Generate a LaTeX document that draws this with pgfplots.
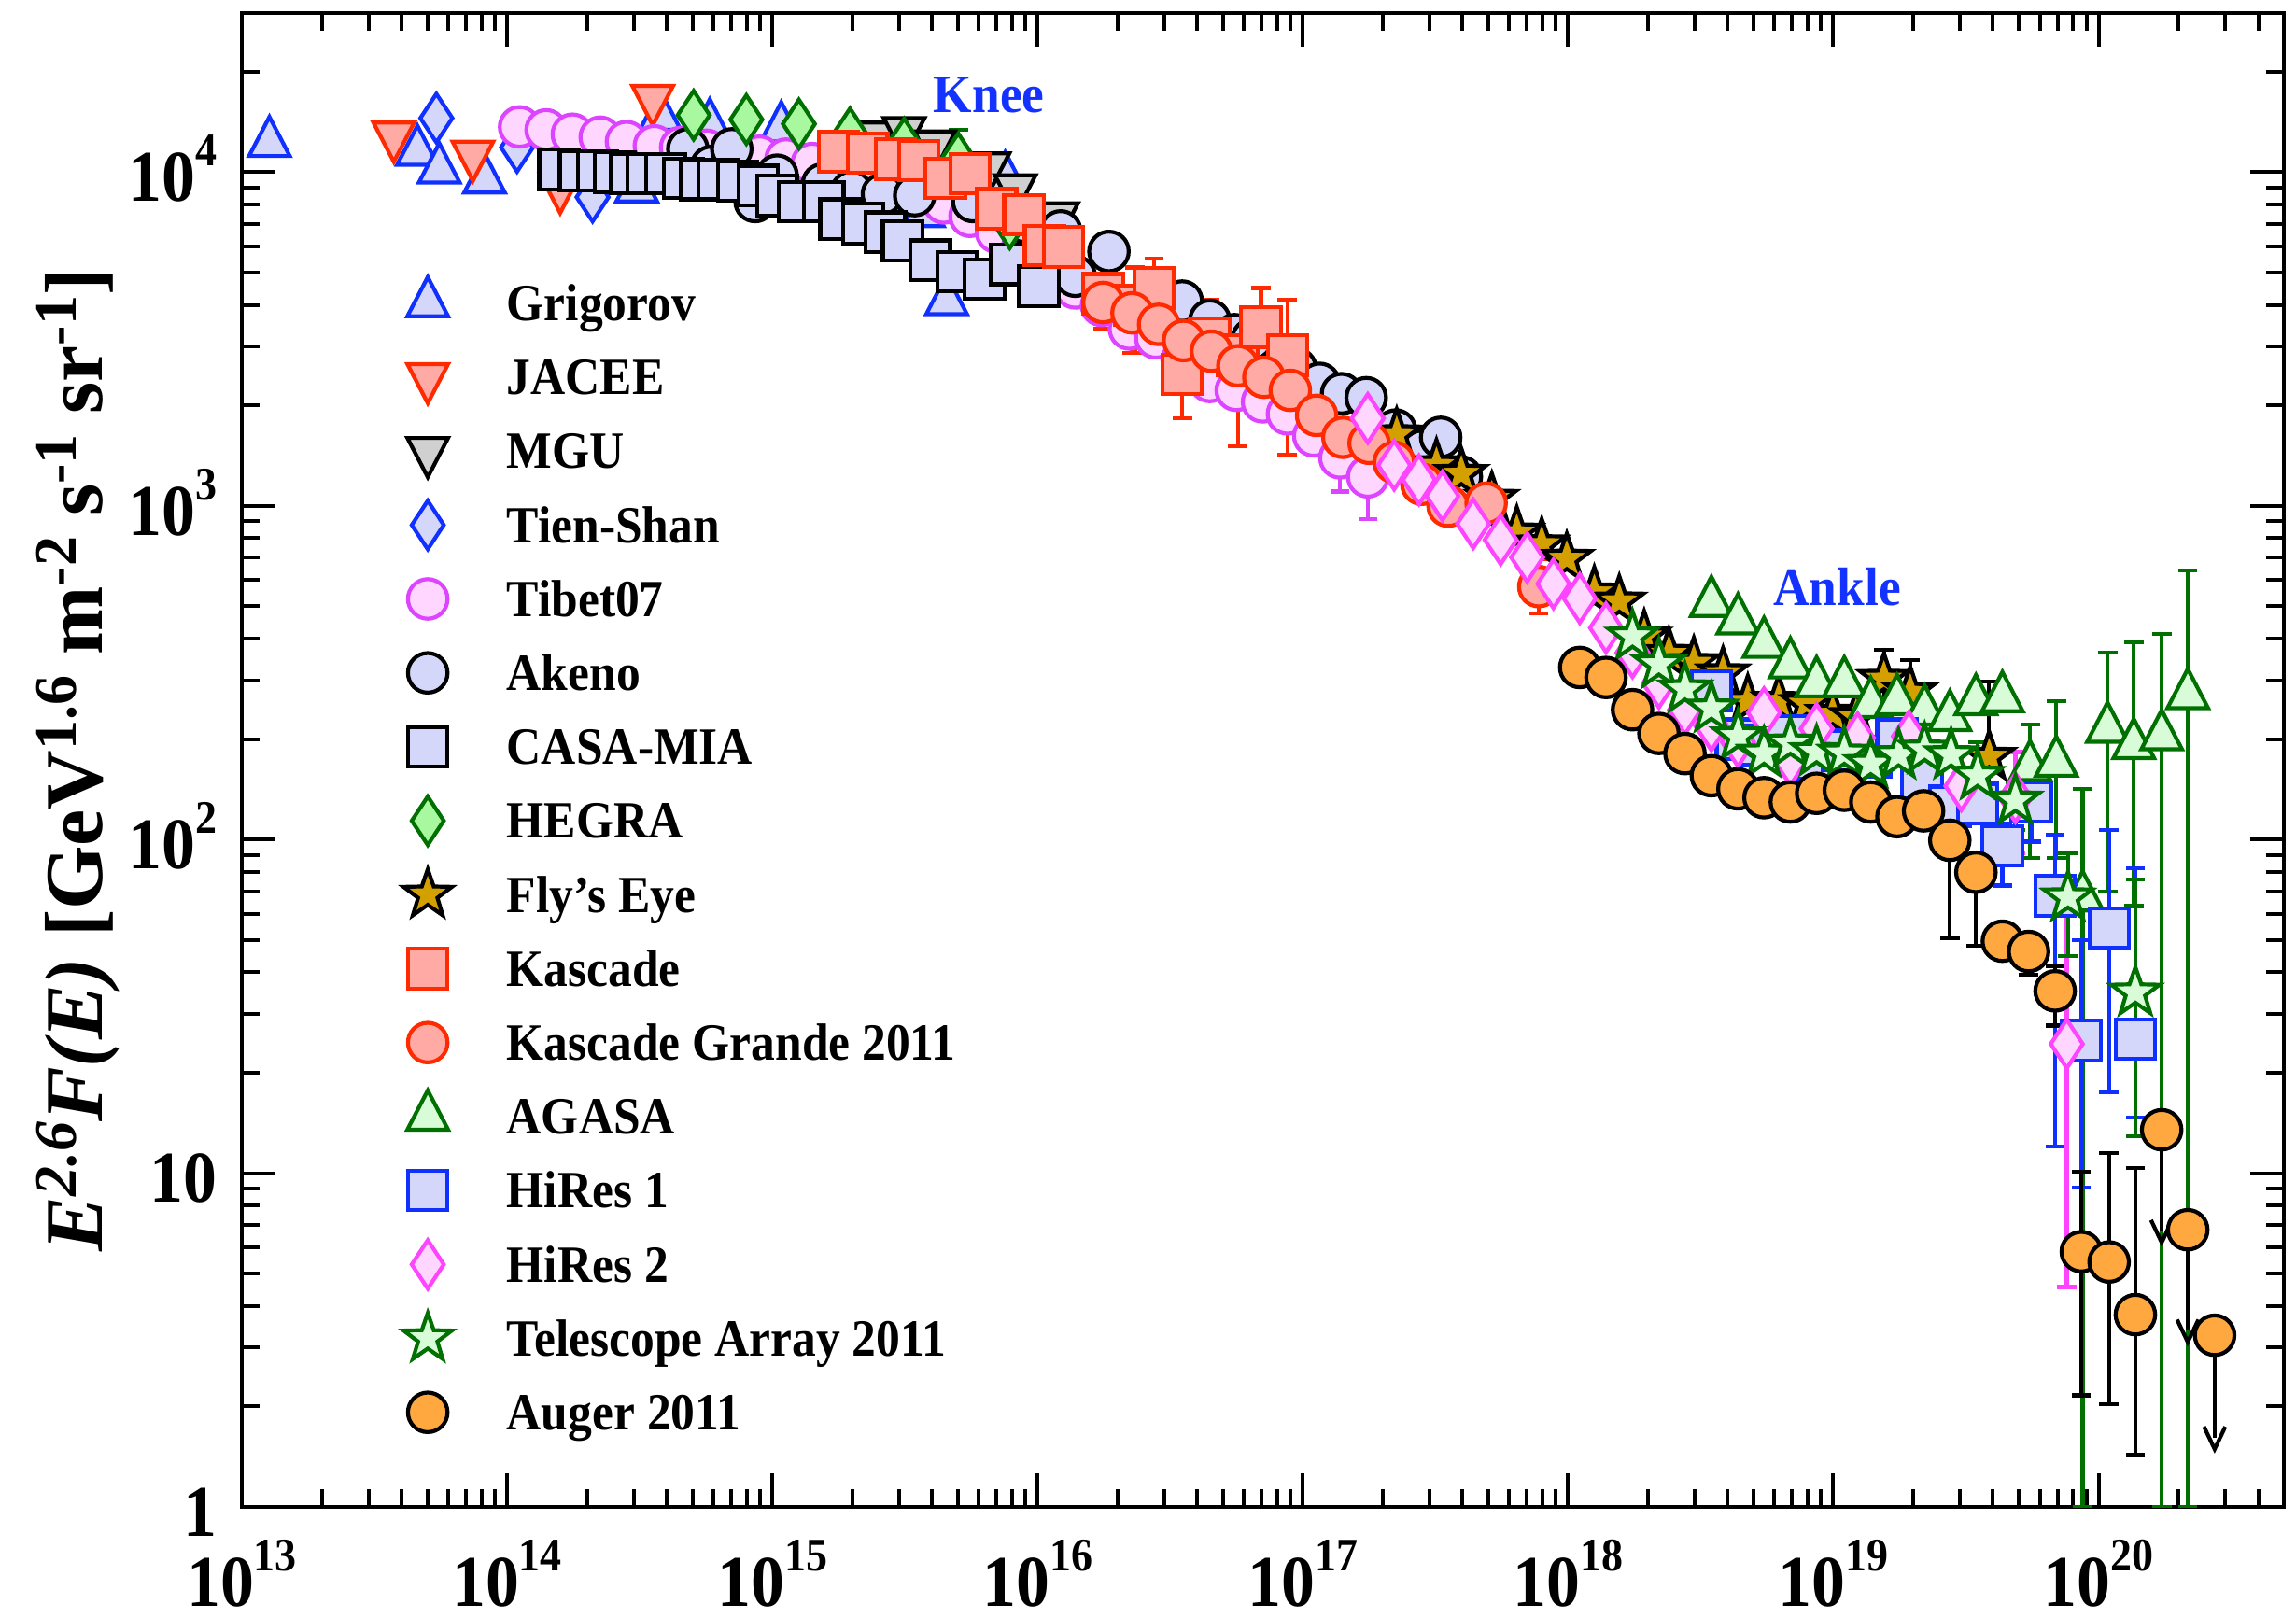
\documentclass[border=0pt]{standalone}
\usepackage{fontspec}
\setmainfont{Liberation Serif}
\newfontfamily\cond{Liberation Serif}[FakeStretch=0.92]
\usepackage{pgfplots}
\pgfplotsset{compat=1.18}
\usetikzlibrary{plotmarks}

\definecolor{cblue}{RGB}{16,48,255}
\definecolor{clav}{RGB}{212,214,250}
\definecolor{cred}{RGB}{255,42,0}
\definecolor{csalmon}{RGB}{255,170,164}
\definecolor{cgray}{RGB}{208,208,208}
\definecolor{cviolet}{RGB}{221,68,255}
\definecolor{cpink}{RGB}{255,214,255}
\definecolor{cgreen}{RGB}{0,112,0}
\definecolor{chegra}{RGB}{168,248,160}
\definecolor{clgreen}{RGB}{216,252,216}
\definecolor{cgold}{RGB}{212,160,0}
\definecolor{cmag}{RGB}{255,68,255}
\definecolor{corange}{RGB}{255,168,64}
\definecolor{cknee}{RGB}{20,50,255}

\pgfdeclareplotmark{fstar}{%
 \pgfpathmoveto{\pgfpointpolar{90}{\pgfplotmarksize}}%
 \pgfpathlineto{\pgfpointpolar{126}{0.4\pgfplotmarksize}}%
 \pgfpathlineto{\pgfpointpolar{162}{\pgfplotmarksize}}%
 \pgfpathlineto{\pgfpointpolar{198}{0.4\pgfplotmarksize}}%
 \pgfpathlineto{\pgfpointpolar{234}{\pgfplotmarksize}}%
 \pgfpathlineto{\pgfpointpolar{270}{0.4\pgfplotmarksize}}%
 \pgfpathlineto{\pgfpointpolar{306}{\pgfplotmarksize}}%
 \pgfpathlineto{\pgfpointpolar{342}{0.4\pgfplotmarksize}}%
 \pgfpathlineto{\pgfpointpolar{18}{\pgfplotmarksize}}%
 \pgfpathlineto{\pgfpointpolar{54}{0.4\pgfplotmarksize}}%
 \pgfpathclose
 \pgfusepathqfillstroke}
% arrow head for upper limits (error marks are turned along the bar)
\pgfdeclareplotmark{varrow}{%
 \pgfpathmoveto{\pgfpoint{-2\pgfplotmarksize}{0.95\pgfplotmarksize}}%
 \pgfpathlineto{\pgfpointorigin}%
 \pgfpathlineto{\pgfpoint{-2\pgfplotmarksize}{-0.95\pgfplotmarksize}}%
 \pgfusepathqstroke}

\newcommand{\tl}[1]{10\raisebox{9.5pt}{\fontsize{12.5}{12.5}\selectfont #1}}
\newcommand{\sups}[1]{\raisebox{7pt}{\fontsize{16}{16}\selectfont #1}}

\pgfplotsset{
 lgd/.style={legend image code/.code={\path[draw=none,fill=none] (-8pt,-9.9pt) rectangle (8pt,9.9pt); \draw[##1] plot coordinates {(0pt,0pt)};}},
 eb/.style={error bars/.cd, y dir=both, y explicit, error mark=|,
   error bar style={line width=1.05pt, #1},
   error mark options={line width=1.05pt, mark size=2.6pt, #1}},
 sgrig/.style={only marks, lgd, mark=triangle*, mark size=7pt, mark options={draw=cblue, fill=clav, line width=1.05pt, xscale=0.9}},
 sjacee/.style={only marks, lgd, mark=triangle*, mark size=7pt, mark options={draw=cred, fill=csalmon, line width=1.05pt, rotate=180, xscale=0.9}},
 smgu/.style={only marks, lgd, mark=triangle*, mark size=7pt, mark options={draw=black, fill=cgray, line width=1.05pt, rotate=180, xscale=0.9}},
 stien/.style={only marks, lgd, mark=diamond*, mark size=6.5pt, mark options={draw=cblue, fill=clav, line width=1.05pt, xscale=0.88}},
 stibet/.style={only marks, lgd, mark=*, mark size=5.3pt, mark options={draw=cviolet, fill=cpink, line width=1.05pt}},
 sakeno/.style={only marks, lgd, mark=*, mark size=5.3pt, mark options={draw=black, fill=clav, line width=1.05pt}},
 scasa/.style={only marks, lgd, mark=square*, mark size=5.3pt, mark options={draw=black, fill=clav, line width=1.05pt}},
 shegra/.style={only marks, lgd, mark=diamond*, mark size=6.5pt, mark options={draw=cgreen, fill=chegra, line width=1.05pt, xscale=0.88}},
 sfly/.style={only marks, lgd, mark=fstar, mark size=6.8pt, mark options={draw=black, fill=cgold, line width=1.05pt}},
 skasc/.style={only marks, lgd, mark=square*, mark size=5.3pt, mark options={draw=cred, fill=csalmon, line width=1.05pt}},
 skg/.style={only marks, lgd, mark=*, mark size=5.3pt, mark options={draw=cred, fill=csalmon, line width=1.05pt}},
 sagasa/.style={only marks, lgd, mark=triangle*, mark size=7pt, mark options={draw=cgreen, fill=clgreen, line width=1.05pt, xscale=0.9}},
 shr1/.style={only marks, lgd, mark=square*, mark size=5.3pt, mark options={draw=cblue, fill=clav, line width=1.05pt}},
 shr2/.style={only marks, lgd, mark=diamond*, mark size=6.5pt, mark options={draw=cmag, fill=cpink, line width=1.05pt, xscale=0.88}},
 sta/.style={only marks, lgd, mark=fstar, mark size=6.8pt, mark options={draw=cgreen, fill=clgreen, line width=1.05pt}},
 sauger/.style={only marks, lgd, mark=*, mark size=5.3pt, mark options={draw=black, fill=corange, line width=1.05pt}},
}

\begin{document}
\begin{tikzpicture}
\useasboundingbox (-64.75pt,-29.5pt) rectangle (550pt,403.5pt);
\begin{axis}[
  at={(0,0)}, anchor=south west,
  scale only axis, width=546.75pt, height=400pt,
  xmode=log, ymode=log,
  xmin=1e13, xmax=5e20, ymin=1, ymax=3e4,
  xtick={1e13,1e14,1e15,1e16,1e17,1e18,1e19,1e20},
  xticklabels={\tl{13},\tl{14},\tl{15},\tl{16},\tl{17},\tl{18},\tl{19},\tl{20}},
  ytick={1,10,100,1000,10000},
  yticklabels={1,10,\tl{2},\tl{3},\tl{4}},
  minor xtick={2e13,3e13,4e13,5e13,6e13,7e13,8e13,9e13,
    2e14,3e14,4e14,5e14,6e14,7e14,8e14,9e14,
    2e15,3e15,4e15,5e15,6e15,7e15,8e15,9e15,
    2e16,3e16,4e16,5e16,6e16,7e16,8e16,9e16,
    2e17,3e17,4e17,5e17,6e17,7e17,8e17,9e17,
    2e18,3e18,4e18,5e18,6e18,7e18,8e18,9e18,
    2e19,3e19,4e19,5e19,6e19,7e19,8e19,9e19,
    2e20,3e20,4e20},
  minor ytick={2,3,4,5,6,7,8,9,20,30,40,50,60,70,80,90,
    200,300,400,500,600,700,800,900,2000,3000,4000,5000,6000,7000,8000,9000,20000},
  tick align=inside,
  major tick length=9pt, minor tick length=4.8pt,
  tick style={line width=1pt, black},
  axis line style={line width=1.2pt},
  ticklabel style={font=\cond\bfseries\fontsize{19.5}{19.5}\selectfont},
  xticklabel style={anchor=base, yshift=-26.7pt, inner sep=0pt},
  yticklabel style={anchor=base east, xshift=-6.5pt, yshift=-7.8pt, inner sep=0pt},
  ylabel={\fontsize{22}{22}\selectfont\bfseries\itshape E\sups{2.6}F(E)\upshape\ [GeV\sups{1.6} m\sups{-2} s\sups{-1} sr\sups{-1}]},
  every axis y label/.style={at={(axis description cs:-0.06822,0.5)}, rotate=90, anchor=base},
  legend cell align=left,
  legend style={at={(0.07638,0.83055)}, anchor=north west, draw=none, fill=none,
    inner sep=0pt, outer sep=0pt, row sep=0pt, column sep=13.17pt,
    font=\cond\bfseries\fontsize{14}{14}\selectfont,
    nodes={inner sep=0pt, text height=9.4pt, text depth=0pt}},
]
% Grigorov
\addplot[sgrig] coordinates {(1.27e13,1.224e4) (4.59e13,1.152e4) (5.55e13,1.02e4) (8.22e13,9.51e3) (3.08e14,8.95e3) (3.78e14,1.468e4) (5.81e14,1.382e4) (1.08e15,1.354e4) (3.71e15,7.54e3) (4.54e15,4.11e3) (7.55e15,9.60e3)};
\addlegendentry{Grigorov}
% JACEE
\addplot[sjacee] coordinates {(3.74e13,1.287e4) (7.43e13,1.129e4) (1.585e14,9.04e3) (3.54e14,1.658e4)};
\addlegendentry{JACEE}
% MGU
\addplot[smgu] coordinates {(2.5e15,1.287e4) (3.14e15,1.327e4) (4.1e15,1.211e4) (6.56e15,1.041e4) (8.24e15,8.95e3) (1.19e16,7.38e3)};
\addlegendentry{MGU}
% Tien-Shan
\addplot[stien] coordinates {(5.41e13,1.453e4) (1.09e14,1.187e4) (2.1e14,8.42e3)};
\addlegendentry{Tien-Shan}
% Tibet07
\addplot[stibet, eb=cviolet] coordinates {(1.114e14,1.368e4) (1.403e14,1.34e4) (1.762e14,1.30e4) (2.244e14,1.274e4) (2.818e14,1.236e4) (3.59e14,1.20e4) (4.51e14,1.187e4) (5.66e14,1.164e4) (7.11e14,1.14e4) (8.93e14,1.117e4) (1.125e15,1.095e4) (1.413e15,1.062e4) (1.774e15,1.031e4) (2.23e15,9.9e3) (2.805e15,9.41e3) (3.52e15,8.77e3) (4.43e15,8.09e3) (5.56e15,7.38e3) (7.0e15,6.61e3) (8.79e15,5.97e3) (1.104e16,5.29e3) (1.387e16,4.50e3) (1.742e16,3.99e3) (2.22e16,3.39e3) (2.79e16,3.19e3) (3.51e16,2.74e3) (4.46e16,2.36e3) (5.61e16,2.22e3) (7.05e16,2.05e3) (8.75e16,1.887e3) (1.1e17,1.621e3) (1.38e17,1.393e3) += (0,300) -= (0,289) (1.758e17,1.222e3) += (0,350) -= (0,311)};
\addlegendentry{Tibet07}
% Akeno
\addplot[sakeno] coordinates {(4.80e14,1.175e4) (5.89e14,1.041e4) (7.03e14,1.175e4) (8.61e14,8.17e3) (1.042e15,9.8e3) (1.545e15,9.22e3) (1.99e15,8.77e3) (2.6e15,8.60e3) (3.44e15,8.51e3) (5.70e15,8.17e3) (8.89e15,7.09e3) (1.222e16,6.67e3) (1.387e16,4.88e3) (1.858e16,5.79e3) (3.51e16,4.11e3) (4.46e16,3.60e3) (5.53e16,3.26e3) (6.44e16,3.16e3) (9.44e16,2.58e3) (1.156e17,2.33e3) (1.40e17,2.17e3) (1.734e17,2.11e3) (2.239e17,1.688e3) (2.81e17,1.466e3) (3.31e17,1.605e3) (3.96e17,1.222e3)};
\addlegendentry{Akeno}
% CASA-MIA
\addplot[scasa] coordinates {(1.57e14,1.02e4) (1.875e14,1.01e4) (2.19e14,1.01e4) (2.55e14,1.0e4) (2.92e14,9.9e3) (3.37e14,9.9e3) (3.97e14,9.9e3) (4.62e14,9.6e3) (5.38e14,9.51e3) (6.27e14,9.51e3) (7.40e14,9.41e3) (8.83e14,9.13e3) (1.042e15,8.51e3) (1.259e15,8.17e3) (1.563e15,8.17e3) (1.80e15,7.24e3) (2.20e15,7.02e3) (2.67e15,6.61e3) (3.10e15,6.22e3) (3.94e15,5.45e3) (4.97e15,5.03e3) (6.31e15,4.78e3) (7.94e15,5.29e3) (1.01e16,4.55e3)};
\addlegendentry{CASA-MIA}
% HEGRA
\addplot[shegra, eb=cgreen] coordinates {(5.05e14,1.483e4) (7.98e14,1.439e4) (1.259e15,1.396e4) (1.963e15,1.314e4) (3.14e15,1.224e4) (5.02e15,1.106e4) += (0,2340) -= (0,2000) (7.85e15,7.0e3) += (0,2600) -= (0,1970)};
\addlegendentry{HEGRA}
% Fly's Eye
\addplot[sfly, eb=black] coordinates {(2.26e17,1.638e3) (3.19e17,1.324e3) (3.96e17,1.247e3) (5.16e17,1.05e3) (6.41e17,832) (7.96e17,767) (9.89e17,694) (1.256e18,550) (1.56e18,517) (1.936e18,406) (2.40e18,360) (2.98e18,338) (3.84e18,315) (4.76e18,260) (6.22e18,260) (7.93e18,255) (9.95e18,238) (1.219e19,233) (1.552e19,303) += (0,68) -= (0,50) (1.95e19,276.5) += (0,68.5) -= (0,50) (3.87e19,177) += (0,120) -= (0,52)};
\addlegendentry{Fly’s Eye}
% Kascade
\addplot[skasc, eb=cred] coordinates {(1.774e15,1.152e4) (2.29e15,1.14e4) (2.91e15,1.095e4) (3.56e15,1.084e4) (4.49e15,9.6e3) (5.56e15,9.9e3) (7.0e15,7.77e3) (8.89e15,7.46e3) (1.062e16,6.03e3) (1.253e16,5.97e3) (1.766e16,4.32e3) (2.33e16,3.99e3) += (0,1190) -= (0,1110) (2.75e16,4.50e3) += (0,1010) -= (0,900) (3.51e16,2.48e3) += (0,620) -= (0,650) (4.46e16,3.19e3) += (0,960) -= (0,900) (5.69e16,2.83e3) += (0,670) -= (0,1320) (6.95e16,3.43e3) += (0,1070) -= (0,830) (8.75e16,2.83e3) += (0,1320) -= (0,1410)};
\addlegendentry{Kascade}
% Kascade Grande 2011
\addplot[skg, eb=cred] coordinates {(1.766e16,4.07e3) += (0,700) -= (0,680) (2.27e16,3.79e3) += (0,600) -= (0,910) (2.86e16,3.50e3) (3.55e16,3.13e3) (4.52e16,2.91e3) (5.69e16,2.63e3) (7.13e16,2.43e3) (8.97e16,2.22e3) (1.127e17,1.868e3) (1.416e17,1.605e3) (1.778e17,1.541e3) (2.21e17,1.351e3) (2.81e17,1.161e3) (3.53e17,998) (4.91e17,1.019e3) (7.76e17,573) += (0,120) -= (0,96)};
\addlegendentry{Kascade Grande 2011}
% AGASA
\addplot[sagasa, eb=cgreen] coordinates {(3.47e18,512) (4.37e18,454) (5.48e18,386) (6.89e18,335) (8.65e18,294) (1.10e19,294) (1.384e19,255) (1.738e19,260) (2.21e19,242) (2.75e19,233) (3.45e19,260) (4.34e19,265.5) (5.52e19,165) += (0,56) -= (0,76.8) (6.93e19,170) += (0,90) -= (0,81.8) (8.71e19,67.1) += (0,75) -= (0,66.1) (1.081e20,215) += (0,148) -= (0,145.1) (1.358e20,192) += (0,198) -= (0,128.8) (1.73e20,204) += (0,210) -= (0,203) (2.17e20,271) += (0,369) -= (0,270)};
\addlegendentry{AGASA}
% HiRes 1
\addplot[shr1, eb=cblue] coordinates {(3.47e18,279) (4.31e18,200) (5.27e18,192) (6.71e18,204) (8.34e18,174) (1.087e19,185) (1.384e19,177) (1.738e19,200) (2.16e19,152.3) (2.75e19,125.7) (3.50e19,128.2) (4.34e19,95.7) += (0,16) -= (0,22.9) (5.58e19,129.6) += (0,35.4) -= (0,31) (6.86e19,67.8) += (0,35.9) -= (0,55.75) (8.61e19,25.0) += (0,25) -= (0,15.92) (1.096e20,54.3) += (0,52.6) -= (0,36.8) (1.377e20,25.2) += (0,57) -= (0,10.5)};
\addlegendentry{HiRes 1}
% HiRes 2
\addplot[shr2, eb=cmag] coordinates {(1.758e17,1.83e3) += (0,460) -= (0,394) (2.21e17,1.324e3) (2.74e17,1.197e3) (3.36e17,1.071e3) (4.39e17,884) (5.57e17,791) (7.01e17,701) (8.81e17,584) (1.107e18,528) (1.39e18,431) (1.75e18,363) (2.20e18,294) (2.76e18,245) (3.47e18,219) (4.37e18,196) (5.48e18,240) (6.89e18,172) (8.65e18,215) (1.236e19,202) (1.928e19,204) (3.04e19,144.8) += (0,45) -= (0,23) (4.86e19,133.5) += (0,49.5) -= (0,42.5) (7.59e19,24.4) += (0,50.7) -= (0,19.84)};
\addlegendentry{HiRes 2}
% Telescope Array 2011
\addplot[sta, eb=cgreen] coordinates {(1.75e18,406) (2.20e18,335) (2.76e18,282) (3.47e18,247) (4.37e18,204) (5.48e18,181) (6.89e18,194) (8.65e18,183) (1.10e19,181) (1.384e19,168.5) (1.762e19,179) (2.21e19,186) (2.78e19,179) (3.50e19,155.4) += (0,40.6) -= (0,24.5) (4.86e19,130.9) += (0,16.8) -= (0,24) (7.67e19,67.1) += (0,23.9) -= (0,22.3) (1.377e20,34.8) += (0,41) -= (0,21.9)};
\addlegendentry{Telescope Array 2011}
% Auger 2011
\addplot[sauger, eb=black] coordinates {(1.107e18,328) (1.39e18,306) (1.75e18,245) (2.20e18,208) (2.76e18,181) (3.47e18,155.4) (4.37e18,141.9) (5.48e18,133.5) (6.89e18,129.6) (8.65e18,137.6) (1.10e19,140.5) (1.384e19,129.6) (1.738e19,117.1) (2.19e19,121.9) (2.75e19,99.5) += (0,6) -= (0,48.9) (3.45e19,79.8) += (0,5) -= (0,31.7) (4.34e19,49.6) (5.45e19,46.2) += (0,3) -= (0,6.9) (6.86e19,35.2) += (0,6.6) -= (0,7.5) (8.61e19,5.82) += (0,4.28) -= (0,3.66) (1.096e20,5.42) += (0,6.08) -= (0,3.39) (1.377e20,3.77) += (0,6.58) -= (0,2.34)};
\addlegendentry{Auger 2011}
% Auger upper limits
\addplot[sauger, forget plot, error bars/.cd, y dir=minus, y explicit, error mark=varrow,
   error bar style={line width=1.05pt, black}, error mark options={line width=1.05pt, mark size=3pt, black}]
   coordinates {(1.73e20,13.5) -= (0,6.8) (2.17e20,6.77) -= (0,3.4) (2.74e20,3.27) -= (0,1.66)};

\node[text=cknee, font=\cond\bfseries\fontsize{14.5}{14.5}\selectfont] at (axis cs:6.56e15,1.709e4) {Knee};
\node[text=cknee, font=\cond\bfseries\fontsize{14.5}{14.5}\selectfont] at (axis cs:1.034e19,572) {Ankle};
\end{axis}
\end{tikzpicture}
\end{document}
